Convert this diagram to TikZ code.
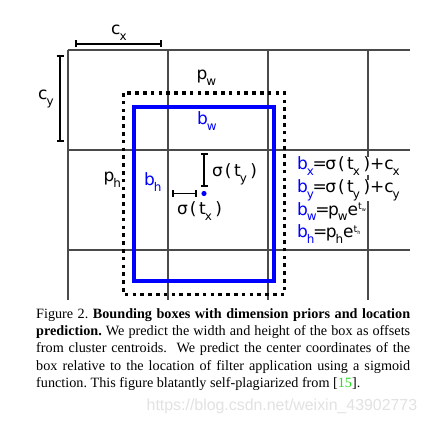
\documentclass[tikz,border=0pt]{standalone}
\usepackage{fontspec}
\setmainfont{Liberation Serif}
\newfontfamily\djfont{DejaVu Sans}
\newfontfamily\wmfont{Liberation Sans}
\usetikzlibrary{arrows.meta}
\definecolor{gridc}{HTML}{4A4A4A}
\definecolor{boxblue}{HTML}{0000FF}
\definecolor{refgreen}{HTML}{22DD22}
\definecolor{wmgray}{HTML}{E2E2E2}
\newcommand\lo[1]{\kern-1pt\raisebox{-5.5pt}{\fontsize{12}{12}\selectfont #1}}
\newcommand\bl[2]{{\color{boxblue}#1\lo{#2}}}
\newcommand\ex[1]{\raisebox{5.5pt}{\fontsize{9.5}{9.5}\selectfont t\raisebox{-2pt}{\fontsize{5}{5}\selectfont #1}}}
\newcommand\sig[1]{σ\kern2pt(\kern2.5pt t\lo{#1}\kern3.5pt)}
\newcommand\eqs{\kern-1.5pt=\kern-1.5pt}
\tikzset{
  gridline/.style={draw=gridc, line width=1.2pt},
  dimbar/.style={draw=black, line width=1.6pt, {Bar[width=7pt,line width=1.6pt]}-{Bar[width=7pt,line width=1.6pt]}},
  lbl/.style={font=\djfont\fontsize{17}{17}\selectfont, inner sep=0pt, anchor=base west},
  eqn/.style={lbl, fill=white},
  priorbox/.style={draw=black, line width=3.6pt, dash pattern=on 3.6pt off 4.2pt},
  predbox/.style={draw=boxblue, line width=4pt},
}
\begin{document}
\begin{tikzpicture}[x=1pt,y=-1pt]
\useasboundingbox[fill=white] (0,0) rectangle (426,422);
% grid
\coordinate (v1t) at (68,50);  \coordinate (v1b) at (68,300);
\coordinate (v2t) at (168,50); \coordinate (v2b) at (168,300);
\coordinate (v3t) at (268,50); \coordinate (v3b) at (268,300);
\coordinate (v4t) at (368,50); \coordinate (v4b) at (368,300);
\coordinate (h1l) at (68,50);  \coordinate (h1r) at (410,50);
\coordinate (h2l) at (68,150); \coordinate (h2r) at (410,150);
\coordinate (h3l) at (68,250); \coordinate (h3r) at (410,250);
\draw[gridline] (v1t) -- (v1b);
\draw[gridline] (v2t) -- (v2b);
\draw[gridline] (v3t) -- (v3b);
\draw[gridline] (v4t) -- (v4b);
\draw[gridline] (h1l) -- (h1r);
\draw[gridline] (h2l) -- (h2r);
\draw[gridline] (h3l) -- (h3r);
% dimension bars
\coordinate (cxa) at (75,44);  \coordinate (cxb) at (162,44);
\coordinate (cya) at (60,55);  \coordinate (cyb) at (60,142);
\draw[dimbar] (cxa) -- (cxb);
\draw[dimbar] (cya) -- (cyb);
\node[lbl] (cx) at (111,35) {c\lo{x}};
\node[lbl] (cy) at (38,100) {c\lo{y}};
% boxes
\coordinate (pa) at (123.5,93);  \coordinate (pb) at (284.5,294.5);
\coordinate (ba) at (134,107);   \coordinate (bb) at (274,281);
\draw[priorbox] (pa) rectangle (pb);
\draw[predbox] (ba) rectangle (bb);
\node[lbl] (pw) at (196.5,80) {p\lo{w}};
\node[lbl] (bw) at (197,125) {\bl{b}{w}};
\node[lbl] (ph) at (103.5,182) {p\lo{h}};
\node[lbl] (bh) at (144,186) {\bl{b}{h}};
% center offsets
\coordinate (tya) at (204,153); \coordinate (tyb) at (204,187);
\coordinate (txa) at (172,193.5); \coordinate (txb) at (197,193.5);
\draw[dimbar] (tya) -- (tyb);
\draw[dimbar] (txa) -- (txb);
\fill[boxblue] (204,193.5) circle (2.6pt);
\node[lbl] (sty) at (212,177) {\sig{y}};
\node[lbl] (stx) at (177,215) {\sig{x}};
% equations
\node[eqn] (eqx) at (297,170) {\bl{b}{x}\eqs\sig{x}+c\lo{x}};
\node[eqn] (eqy) at (297,192.7) {\bl{b}{y}\eqs\sig{y}+c\lo{y}};
\node[eqn] (eqw) at (297,215.3) {\bl{b}{w}\eqs p\lo{w}e\ex{w}};
\node[eqn] (eqh) at (297,238) {\bl{b}{h}\eqs p\lo{h}e\ex{h}};
% caption
\node[anchor=base west, inner sep=0pt, text width=374pt, align=justify,
      font=\fontsize{14.2}{17.35}\selectfont\frenchspacing] (cap) at (36,318.3)
{Figure 2. \textbf{Bounding boxes with dimension priors and location}\linebreak
\textbf{prediction.} We predict the width and height of the box as offsets\linebreak
from cluster centroids.\ \ We predict the center coordinates of the\linebreak
box relative to the location of filter application using a sigmoid\linebreak
function. This figure blatantly self-plagiarized from [{\color{refgreen}15}].};
% watermark
\node[anchor=base west, inner sep=0pt, text=wmgray,
      font=\wmfont\fontsize{15.9}{15.9}\selectfont] (wm) at (146.5,410.7)
{https://blog.csdn.net/weixin\_43902773};
\end{tikzpicture}
\end{document}
